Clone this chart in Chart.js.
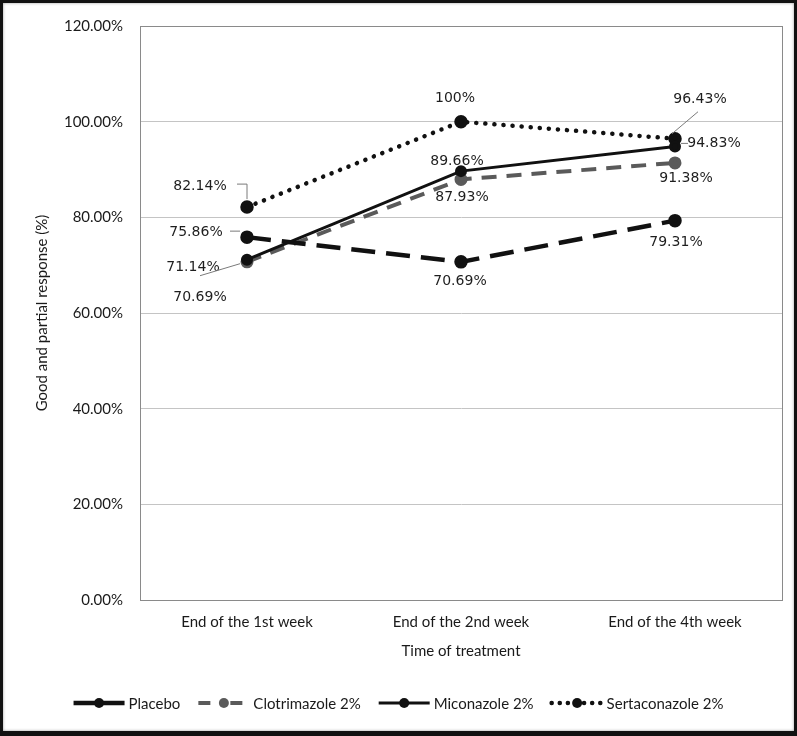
<!DOCTYPE html>
<html>
<head>
<meta charset="utf-8">
<script src="https://cdn.jsdelivr.net/npm/chart.js@4/dist/chart.umd.min.js"></script>
<style>
  html, body { margin: 0; padding: 0; background: #fff; }
  #wrap { position: relative; width: 797px; height: 736px; }
  #frame { position: absolute; left: 0; top: 0; width: 797px; height: 736px; box-sizing: border-box;
           border: 3px solid #111; border-bottom-width: 5px; box-shadow: inset 0 0 3px #999; pointer-events: none; }
</style>
</head>
<body>
<div id="wrap">
  <canvas id="responseChart" width="797" height="736"></canvas>
  <div id="frame"></div>
</div>
<script>
// === data ===
const categories = ['End of the 1st week', 'End of the 2nd week', 'End of the 4th week'];
const placebo = [75.86, 70.69, 79.31];
const clotrimazole = [70.69, 87.93, 91.38];
const miconazole = [71.14, 89.66, 94.83];
const sertaconazole = [82.14, 100, 96.43];
const yTicks = [0, 20, 40, 60, 80, 100, 120];

// label placement relative to each point (dx, dy) + optional leader lines
const labelOffsets = [
  [[-51, -5], [-1, 19], [1, 22]],      // placebo
  [[-47, 35], [1, 18], [11, 15]],      // clotrimazole
  [[-54, 8], [-4, -10], [39, -3]],     // miconazole
  [[-47, -21], [-6, -23], [25, -39]]   // sertaconazole
];
const leaders = [
  [[[-17, -6], [-7, -6]], null, null],
  [null, null, null],
  [[[-47, 16], [-7, 4]], null, [[6, -3], [13, -3]]],
  [[[-10, -23], [0, -23], [0, -8]], null, [[23, -27], [-3, -5]]]
];

const fmt = v => (v === 100 ? '100' : v.toFixed(2)) + '%';

const plotBox = {
  id: 'plotBox',
  beforeDatasetsDraw(chart) {
    const a = chart.chartArea, c = chart.ctx;
    c.save();
    c.strokeStyle = '#8a8a8a';
    c.lineWidth = 1;
    c.strokeRect(Math.round(a.left) + 0.5, Math.round(a.top) + 0.5, Math.round(a.right - a.left), Math.round(a.bottom - a.top));
    c.restore();
  }
};

const pointLabels = {
  id: 'pointLabels',
  afterDatasetsDraw(chart) {
    const c = chart.ctx;
    c.save();
    c.font = '14px "DejaVu Sans"';
    c.fillStyle = '#1e1e1e';
    c.textAlign = 'center';
    c.textBaseline = 'middle';
    chart.data.datasets.forEach((ds, i) => {
      const meta = chart.getDatasetMeta(i);
      meta.data.forEach((pt, j) => {
        const off = labelOffsets[i][j];
        c.fillText(fmt(ds.data[j]), pt.x + off[0], pt.y + off[1]);
        const ld = leaders[i][j];
        if (ld) {
          c.strokeStyle = '#7a7a7a';
          c.lineWidth = 1;
          c.beginPath();
          ld.forEach((p, k) => k ? c.lineTo(pt.x + p[0], pt.y + p[1]) : c.moveTo(pt.x + p[0], pt.y + p[1]));
          c.stroke();
        }
      });
    });
    c.restore();
  }
};

// legend as in the original (line + marker), drawn below the axis
const legendDash = [[], [12, 20], [], [0.1, 8]];
const bottomLegend = {
  id: 'bottomLegend',
  afterDraw(chart) {
    const c = chart.ctx;
    const y = 703, sym = 51, gap = 4, space = 18;
    c.save();
    c.font = '15px Lato';
    c.textBaseline = 'middle';
    const items = chart.data.datasets.map(ds => ({ ds, w: c.measureText(ds.label).width }));
    const total = items.reduce((s, it) => s + sym + gap + it.w, 0) + space * (items.length - 1);
    let x = (chart.width - total) / 2;
    items.forEach((it, i) => {
      const ds = it.ds;
      c.strokeStyle = ds.borderColor;
      c.lineWidth = ds.borderWidth;
      c.lineCap = ds.borderCapStyle || 'butt';
      c.setLineDash(legendDash[i]);
      c.beginPath();
      c.moveTo(x, y);
      c.lineTo(x + sym, y);
      c.stroke();
      c.setLineDash([]);
      c.fillStyle = ds.pointBackgroundColor;
      c.beginPath();
      c.arc(x + sym / 2, y, 5, 0, Math.PI * 2);
      c.fill();
      c.fillStyle = '#1a1a1a';
      c.fillText(ds.label, x + sym + gap, y + 1);
      x += sym + gap + it.w + space;
    });
    c.restore();
  }
};

new Chart(document.getElementById('responseChart'), {
  type: 'line',
  data: {
    labels: categories,
    datasets: [
      { label: 'Placebo', data: placebo, borderColor: '#111', borderWidth: 4.5, borderDash: [24, 11],
        pointBackgroundColor: '#111', pointBorderColor: '#111', pointRadius: 4.5, order: 1 },
      { label: 'Clotrimazole 2%', data: clotrimazole, borderColor: '#5a5a5a', borderWidth: 4, borderDash: [15, 10],
        pointBackgroundColor: '#5a5a5a', pointBorderColor: '#5a5a5a', pointRadius: 4.5, order: 1 },
      { label: 'Miconazole 2%', data: miconazole, borderColor: '#111', borderWidth: 3,
        pointBackgroundColor: '#111', pointBorderColor: '#111', pointRadius: 4.5, order: 0 },
      { label: 'Sertaconazole 2%', data: sertaconazole, borderColor: '#111', borderWidth: 4.5, borderDash: [0.1, 9],
        borderCapStyle: 'round', pointBackgroundColor: '#111', pointBorderColor: '#111', pointRadius: 4.5, order: 1 }
    ]
  },
  options: {
    responsive: false,
    animation: false,
    layout: { padding: { left: 0, top: 25, right: 15, bottom: 66 } },
    plugins: {
      legend: { display: false },
      tooltip: { enabled: false }
    },
    scales: {
      x: {
        offset: true,
        afterFit: s => { s.height = 70; },
        grid: { display: false, drawTicks: false },
        border: { display: true, color: '#8a8a8a' },
        ticks: { padding: 13, color: '#1a1a1a', font: { family: 'Lato', size: 15 } },
        title: { display: true, text: 'Time of treatment', color: '#1a1a1a',
                 font: { family: 'Lato', size: 15 }, padding: { top: 0, bottom: 10 } }
      },
      y: {
        min: 0,
        max: 120,
        afterFit: s => { s.width = 140; },
        afterBuildTicks: s => { s.ticks = yTicks.map(v => ({ value: v })); },
        grid: { color: '#c4c4c4', drawTicks: false },
        border: { display: true, color: '#8a8a8a' },
        ticks: { padding: 17, color: '#1a1a1a', font: { family: 'Lato', size: 15 },
                 callback: v => v.toFixed(2) + '%' },
        title: { display: true, text: 'Good and partial response (%)', color: '#1a1a1a',
                 font: { family: 'Lato', size: 15 }, padding: { top: 33, bottom: 0 } }
      }
    }
  },
  plugins: [plotBox, pointLabels, bottomLegend]
});
</script>
</body>
</html>
